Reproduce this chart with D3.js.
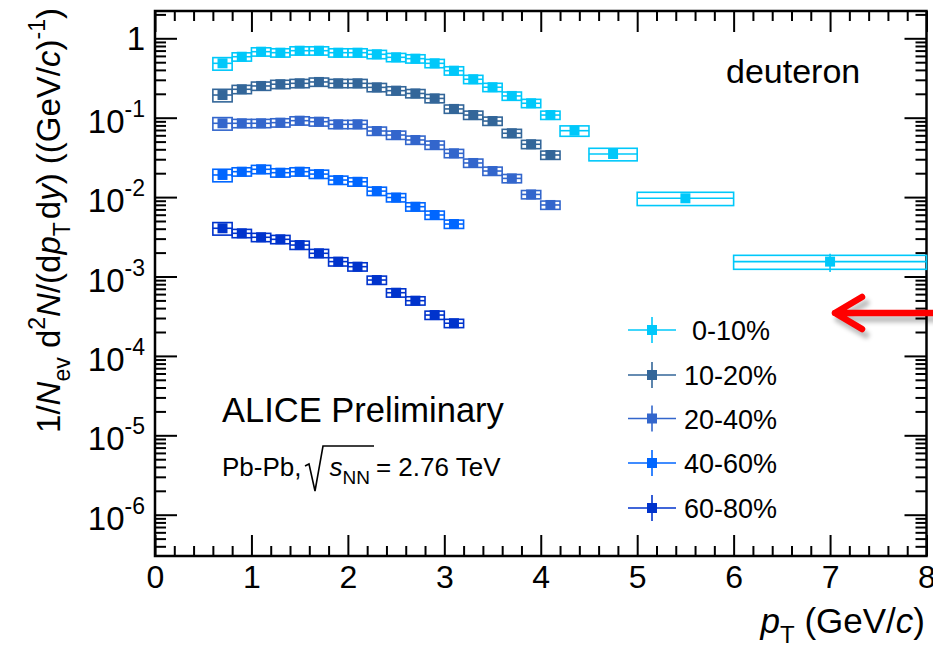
<!DOCTYPE html>
<html>
<head>
<meta charset="utf-8">
<script src="https://cdn.jsdelivr.net/npm/d3@7"></script>
<style>
  html, body { margin: 0; padding: 0; background: #fff; }
  svg { display: block; }
  text { font-family: "Liberation Sans", Arial, Helvetica, sans-serif; fill: #000; }
</style>
</head>
<body>
<svg id="chart" width="933" height="647"></svg>
<script>
// Deuteron pT spectra in Pb-Pb collisions, five centrality classes.
const centralities = ["0-10%", "10-20%", "20-40%", "40-60%", "60-80%"];
const colors = ["#00C8FA", "#336699", "#3366CC", "#0066FF", "#0033CC"];

// bin edges (GeV/c)
const binLo0 = [0.6,0.8,1.0,1.2,1.4,1.6,1.8,2.0,2.2,2.4,2.6,2.8,3.0,3.2,3.4,3.6,3.8,4.0,4.2,4.5,5.0,6.0];
const binHi0 = [0.8,1.0,1.2,1.4,1.6,1.8,2.0,2.2,2.4,2.6,2.8,3.0,3.2,3.4,3.6,3.8,4.0,4.2,4.5,5.0,6.0,8.0];
const binLo1 = [0.6,0.8,1.0,1.2,1.4,1.6,1.8,2.0,2.2,2.4,2.6,2.8,3.0,3.2,3.4,3.6,3.8,4.0];
const binHi1 = [0.8,1.0,1.2,1.4,1.6,1.8,2.0,2.2,2.4,2.6,2.8,3.0,3.2,3.4,3.6,3.8,4.0,4.2];
const binLo3 = [0.6,0.8,1.0,1.2,1.4,1.6,1.8,2.0,2.2,2.4,2.6,2.8,3.0];
const binHi3 = [0.8,1.0,1.2,1.4,1.6,1.8,2.0,2.2,2.4,2.6,2.8,3.0,3.2];

// yields 1/Nev d2N/(dpT dy)
const yield0_10 = [0.484,0.586,0.678,0.659,0.698,0.698,0.659,0.659,0.629,0.576,0.554,0.484,0.391,0.305,0.242,0.188,0.152,0.108,0.0686,0.0349,0.00966,0.00154];
const yield10_20 = [0.193,0.228,0.251,0.264,0.271,0.282,0.271,0.271,0.241,0.219,0.202,0.175,0.129,0.108,0.0908,0.0637,0.0463,0.0339];
const yield20_40 = [0.0850,0.0850,0.0850,0.0866,0.0917,0.0891,0.0826,0.0826,0.0680,0.0605,0.0524,0.0453,0.0356,0.0269,0.0213,0.0172,0.0108,0.00796];
const yield40_60 = [0.0190,0.0209,0.0224,0.0203,0.0209,0.0195,0.0164,0.0156,0.0119,0.00988,0.00757,0.00595,0.00458];
const yield60_80 = [0.00405,0.00350,0.00312,0.00294,0.00249,0.00196,0.00154,0.00133,0.000903,0.000625,0.000496,0.000327,0.000258];

// relative systematic (box) and statistical (bar) uncertainties
const sys0_10 = [0.18,0.12,0.12,0.12,0.12,0.12,0.12,0.12,0.12,0.12,0.12,0.12,0.12,0.12,0.12,0.12,0.12,0.12,0.15,0.18,0.19,0.2];
const stat0_10 = [0.02,0.02,0.02,0.02,0.02,0.02,0.02,0.02,0.02,0.02,0.02,0.02,0.02,0.02,0.02,0.03,0.03,0.04,0.05,0.07,0.12,0.26];
const sysOther = [0.18,0.12,0.12,0.12,0.12,0.12,0.12,0.12,0.12,0.12,0.12,0.12,0.12,0.12,0.12,0.12,0.12,0.12];
const statOther = [0.02,0.02,0.02,0.02,0.02,0.02,0.02,0.02,0.02,0.02,0.02,0.02,0.03,0.03,0.03,0.04,0.04,0.05];

const xMajor = [0,1,2,3,4,5,6,7,8];
const yMajorExp = [0,-1,-2,-3,-4,-5,-6];

const series = [
  { name: centralities[0], color: colors[0], lo: binLo0, hi: binHi0, v: yield0_10, sys: sys0_10, stat: stat0_10 },
  { name: centralities[1], color: colors[1], lo: binLo1, hi: binHi1, v: yield10_20, sys: sysOther, stat: statOther },
  { name: centralities[2], color: colors[2], lo: binLo1, hi: binHi1, v: yield20_40, sys: sysOther, stat: statOther },
  { name: centralities[3], color: colors[3], lo: binLo3, hi: binHi3, v: yield40_60, sys: sysOther, stat: statOther },
  { name: centralities[4], color: colors[4], lo: binLo3, hi: binHi3, v: yield60_80, sys: sysOther, stat: statOther }
];

const L = 155, R = 926.5, T = 11, B = 556;
const svg = d3.select("#chart");

const x = d3.scaleLinear().domain([0, 8]).range([L, R]);
const y = d3.scaleLog().domain([3.02e-7, 2.207]).range([B, T]);

// ---- axes (ticks point inward on all four sides) ----
const xMinor = d3.range(0, 8.001, 0.2).filter(v => Math.abs(v - Math.round(v)) > 1e-6);
const yMinor = [];
for (let e = -7; e <= 0; e++) for (let m = 2; m <= 9; m++) {
  const v = m * Math.pow(10, e);
  if (v > y.domain()[0] && v < y.domain()[1]) yMinor.push(v);
}
const yMajor = yMajorExp.map(e => Math.pow(10, e));

function styleAxis(g) {
  g.select(".domain").remove();
  g.selectAll(".tick line").attr("stroke", "#000").attr("stroke-width", 2);
}

// bottom
svg.append("g").attr("transform", `translate(0,${B})`)
  .call(d3.axisBottom(x).tickValues(xMinor).tickSize(-10).tickFormat(""))
  .call(styleAxis);
svg.append("g").attr("transform", `translate(0,${B})`)
  .call(d3.axisBottom(x).tickValues(xMajor).tickSize(-21).tickPadding(9).tickFormat(d3.format("d")))
  .call(styleAxis)
  .call(g => g.selectAll("text").attr("font-size", 32).attr("fill", "#000")
    .attr("font-family", "'Liberation Sans', Arial, sans-serif"));
// top
svg.append("g").attr("transform", `translate(0,${T})`)
  .call(d3.axisTop(x).tickValues(xMinor).tickSize(-10).tickFormat(""))
  .call(styleAxis);
svg.append("g").attr("transform", `translate(0,${T})`)
  .call(d3.axisTop(x).tickValues(xMajor).tickSize(-21).tickFormat(""))
  .call(styleAxis);
// left
svg.append("g").attr("transform", `translate(${L},0)`)
  .call(d3.axisLeft(y).tickValues(yMinor).tickSize(-11).tickFormat(""))
  .call(styleAxis);
svg.append("g").attr("transform", `translate(${L},0)`)
  .call(d3.axisLeft(y).tickValues(yMajor).tickSize(-22).tickFormat(""))
  .call(styleAxis);
// right
svg.append("g").attr("transform", `translate(${R},0)`)
  .call(d3.axisRight(y).tickValues(yMinor).tickSize(-11).tickFormat(""))
  .call(styleAxis);
svg.append("g").attr("transform", `translate(${R},0)`)
  .call(d3.axisRight(y).tickValues(yMajor).tickSize(-22).tickFormat(""))
  .call(styleAxis);

// frame
svg.append("rect").attr("x", L).attr("y", T).attr("width", R - L).attr("height", B - T)
  .attr("fill", "none").attr("stroke", "#000").attr("stroke-width", 2.5);

// y tick labels: 1 and powers of ten
const yLab = svg.append("g").attr("font-size", 33);
yMajorExp.forEach(e => {
  const yy = y(Math.pow(10, e));
  if (e === 0) {
    yLab.append("text").attr("x", 145).attr("y", yy + 12).attr("text-anchor", "end").text("1");
  } else {
    const t = yLab.append("text").attr("x", 145).attr("y", yy + 15).attr("text-anchor", "end");
    t.append("tspan").text("10");
    t.append("tspan").attr("font-size", 23).attr("dy", -16).text("-" + (-e));
  }
});

// ---- data marks ----
const plot = svg.append("g");
series.forEach(s => {
  const g = plot.append("g");
  s.v.forEach((v, i) => {
    const x0 = x(s.lo[i]), x1 = x(s.hi[i]), xc = x((s.lo[i] + s.hi[i]) / 2);
    // systematic box
    g.append("rect")
      .attr("x", x0).attr("y", y(v * (1 + s.sys[i])))
      .attr("width", x1 - x0).attr("height", y(v * (1 - s.sys[i])) - y(v * (1 + s.sys[i])))
      .attr("fill", "none").attr("stroke", s.color).attr("stroke-width", 1.6);
    // bin width bar
    g.append("line").attr("x1", x0).attr("x2", x1).attr("y1", y(v)).attr("y2", y(v))
      .attr("stroke", s.color).attr("stroke-width", 1.6);
    // statistical bar
    g.append("line").attr("x1", xc).attr("x2", xc)
      .attr("y1", y(v * (1 + s.stat[i]))).attr("y2", y(v * (1 - s.stat[i])))
      .attr("stroke", s.color).attr("stroke-width", 1.6);
    // marker
    g.append("rect").attr("x", xc - 5).attr("y", y(v) - 5).attr("width", 10).attr("height", 10)
      .attr("fill", s.color);
  });
});

// ---- legend ----
const legY = [330, 375, 418.5, 463, 508];
const leg = svg.append("g");
series.forEach((s, i) => {
  const yy = legY[i];
  leg.append("line").attr("x1", 628).attr("x2", 676).attr("y1", yy).attr("y2", yy)
    .attr("stroke", s.color).attr("stroke-width", 1.6);
  leg.append("line").attr("x1", 652).attr("x2", 652).attr("y1", yy - 13).attr("y2", yy + 13)
    .attr("stroke", s.color).attr("stroke-width", 1.6);
  leg.append("rect").attr("x", 647).attr("y", yy - 5).attr("width", 10).attr("height", 10)
    .attr("fill", s.color);
  leg.append("text").attr("x", i === 0 ? 692 : 684).attr("y", yy + 10)
    .attr("font-size", 27).text(s.name);
});

// ---- annotations ----
svg.append("text").attr("x", 726).attr("y", 83).attr("font-size", 34).text("deuteron");
svg.append("text").attr("x", 222).attr("y", 422).attr("font-size", 34.5).text("ALICE Preliminary");
const sys = svg.append("text").attr("x", 222).attr("y", 476).attr("font-size", 26);
sys.append("tspan").text("Pb-Pb,");
sys.append("tspan").attr("dx", 28).attr("font-style", "italic").text("s");
sys.append("tspan").attr("font-size", 19).attr("dy", 8).text("NN");
sys.append("tspan").attr("dy", -8).attr("dx", 6).text("= 2.76 TeV");
// radical sign over s_NN
svg.append("path").attr("d", "M305,466 L309,464 L315,491 L323,446 L374,446")
  .attr("fill", "none").attr("stroke", "#000").attr("stroke-width", 1.6);

// x axis title
const xt = svg.append("text").attr("x", 925).attr("y", 633).attr("text-anchor", "end").attr("font-size", 35);
xt.append("tspan").attr("font-style", "italic").text("p");
xt.append("tspan").attr("font-size", 24).attr("dy", 10).text("T");
xt.append("tspan").attr("dy", -10).text(" (GeV/");
xt.append("tspan").attr("font-style", "italic").text("c");
xt.append("tspan").text(")");

// y axis title
const yt = svg.append("text").attr("transform", "translate(60,8) rotate(-90)")
  .attr("text-anchor", "end").attr("font-size", 33);
yt.append("tspan").text("1/");
yt.append("tspan").attr("font-style", "italic").text("N");
yt.append("tspan").attr("font-size", 23).attr("dy", 10).text("ev");
yt.append("tspan").attr("dy", -10).text("  d");
yt.append("tspan").attr("font-size", 23).attr("dy", -15).text("2");
yt.append("tspan").attr("dy", 15).attr("font-style", "italic").text("N");
yt.append("tspan").text("/(d");
yt.append("tspan").attr("font-style", "italic").text("p");
yt.append("tspan").attr("font-size", 23).attr("dy", 10).text("T");
yt.append("tspan").attr("dy", -10).attr("dx", 3).text("d");
yt.append("tspan").attr("font-style", "italic").text("y");
yt.append("tspan").text(") ((GeV/");
yt.append("tspan").attr("font-style", "italic").text("c");
yt.append("tspan").text(")");
yt.append("tspan").attr("font-size", 23).attr("dy", -15).text("-1");
yt.append("tspan").attr("dy", 15).text(")");

// red pointer arrow
const arrow = svg.append("g");
arrow.append("path").attr("d", "M933,316 L836,316 M864,300 L836,316 L864,332")
  .attr("fill", "none").attr("stroke", "rgba(0,0,0,0.25)").attr("stroke-width", 7)
  .attr("stroke-linecap", "round").attr("stroke-linejoin", "round")
  .attr("transform", "translate(2,3)").style("filter", "blur(2px)");
arrow.append("path").attr("d", "M933,313 L835,313 M862,297 L835,313 L862,329")
  .attr("fill", "none").attr("stroke", "#FF0000").attr("stroke-width", 6.5)
  .attr("stroke-linecap", "round").attr("stroke-linejoin", "round");
</script>
</body>
</html>
